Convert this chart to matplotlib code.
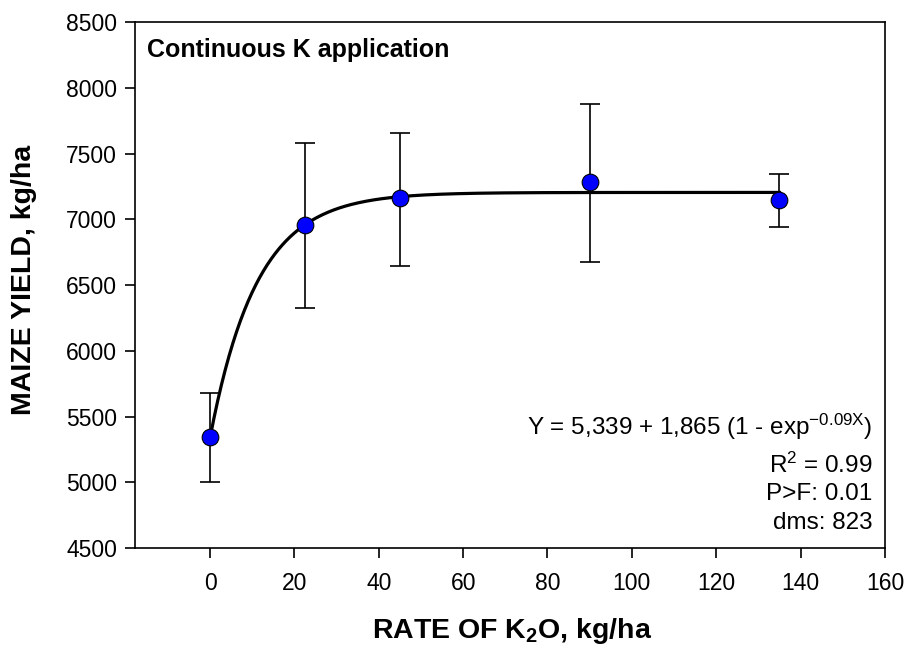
import numpy as np
import matplotlib
matplotlib.use("Agg")
import matplotlib.pyplot as plt

plt.rcParams['font.family'] = ['Liberation Sans', 'DejaVu Sans']
plt.rcParams['mathtext.fontset'] = 'custom'
plt.rcParams['mathtext.rm'] = 'Liberation Sans'
plt.rcParams['mathtext.bf'] = 'Liberation Sans:bold'
plt.rcParams['mathtext.it'] = 'Liberation Sans:italic'

# data
k2o_rate = [0, 22.5, 45, 90, 135]
yield_mean = [5346, 6956, 7159, 7285, 7146]
err_low = [5000, 6327, 6644, 6673, 6943]
err_high = [5676, 7577, 7653, 7876, 7342]

# fitted model shown on the chart: Y = a + b (1 - exp(-c X))
fit_a = 5339
fit_b = 1865
fit_c = 0.09

x_ticks = [0, 20, 40, 60, 80, 100, 120, 140, 160]
y_ticks = [4500, 5000, 5500, 6000, 6500, 7000, 7500, 8000, 8500]

fig = plt.figure(figsize=(9.09, 6.51), dpi=100)
ax = fig.add_axes([0.1485, 0.1582, 0.825, 0.808])

x_fit = np.linspace(0, 135, 300)
y_fit = fit_a + fit_b * (1 - np.exp(-fit_c * x_fit))

yerr = [np.array(yield_mean) - np.array(err_low), np.array(err_high) - np.array(yield_mean)]
ax.errorbar(k2o_rate, yield_mean, yerr=yerr, fmt='none', ecolor='black',
            elinewidth=1.2, capsize=7, capthick=1.2, zorder=2)
ax.plot(x_fit, y_fit, color='black', lw=2.3, zorder=3)
ax.plot(k2o_rate, yield_mean, 'o', color='#0000ff', markeredgecolor='black',
        markeredgewidth=0.8, markersize=12, zorder=4)

ax.set_xlim(-17.8, 160)
ax.set_ylim(4500, 8500)
ax.set_xticks(x_ticks)
ax.set_yticks(y_ticks)
ax.tick_params(axis='both', direction='out', length=7, width=1.2, labelsize=16.5, pad=6)
ax.tick_params(axis='x', pad=10)
for s in ax.spines.values():
    s.set_linewidth(1.2)

ax.text(0.016, 0.947, 'Continuous K application', transform=ax.transAxes,
        fontsize=18, fontweight='bold', ha='left', va='center')

eq_size = 17.5
ax.text(0.983, 0.215, r'Y = 5,339 + 1,865 (1 - exp$^{\mathrm{-0.09X}}$)', transform=ax.transAxes,
        fontsize=eq_size, ha='right', va='baseline')
ax.text(0.983, 0.143, r'R$^{\mathrm{2}}$ = 0.99', transform=ax.transAxes,
        fontsize=eq_size, ha='right', va='baseline')
ax.text(0.983, 0.091, 'P>F: 0.01', transform=ax.transAxes,
        fontsize=eq_size, ha='right', va='baseline')
ax.text(0.983, 0.036, 'dms: 823', transform=ax.transAxes,
        fontsize=eq_size, ha='right', va='baseline')

fig.text(0.026, 0.57, 'MAIZE YIELD, kg/ha', rotation=90, fontsize=20.5,
         fontweight='bold', ha='center', va='center')
fig.text(0.563, 0.031, r'RATE OF K$_{\mathbf{2}}$O, kg/ha', fontsize=20.5,
         fontweight='bold', ha='center', va='center')

fig.savefig('out.png', dpi=100)
